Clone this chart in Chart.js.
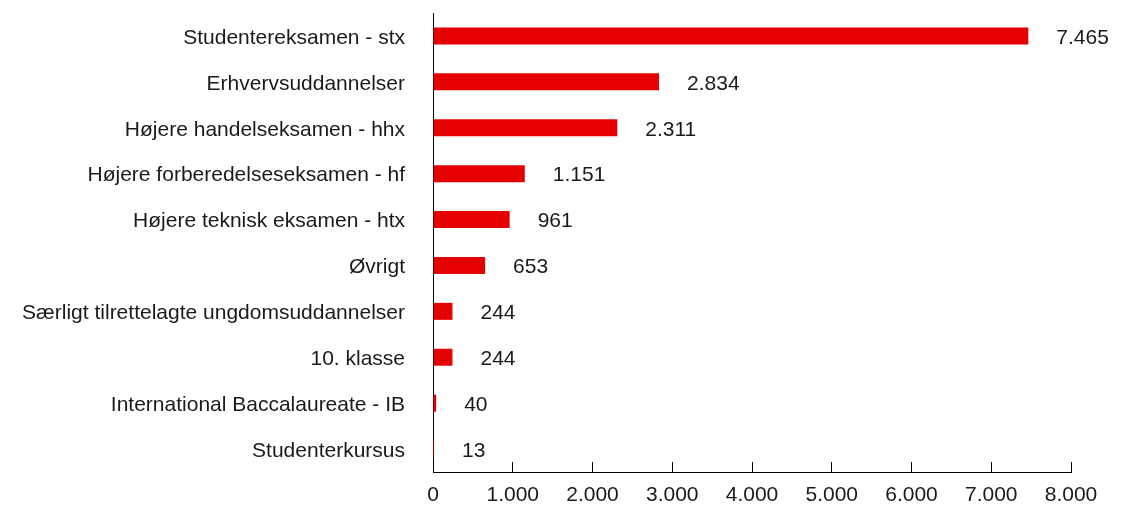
<!DOCTYPE html>
<html>
<head>
<meta charset="utf-8">
<script src="https://cdn.jsdelivr.net/npm/chart.js@4"></script>
<style>
  html, body { margin: 0; padding: 0; background: #fff; }
  #wrap { width: 1124px; height: 505px; }
</style>
</head>
<body>
<div id="wrap"><canvas id="chart" width="1124" height="505"></canvas></div>
<script>
const categories = [
  "Studentereksamen - stx",
  "Erhvervsuddannelser",
  "Højere handelseksamen - hhx",
  "Højere forberedelseseksamen - hf",
  "Højere teknisk eksamen - htx",
  "Øvrigt",
  "Særligt tilrettelagte ungdomsuddannelser",
  "10. klasse",
  "International Baccalaureate - IB",
  "Studenterkursus",
];
const values = [7465, 2834, 2311, 1151, 961, 653, 244, 244, 40, 13];
const xTicks = [0, 1000, 2000, 3000, 4000, 5000, 6000, 7000, 8000];

const FONT = "'Liberation Sans', Arial, Helvetica, sans-serif";
const FONT_SIZE = 21;

// danish thousands separator
function fmt(v) {
  return String(v).replace(/\B(?=(\d{3})+(?!\d))/g, ".");
}

const valueLabels = {
  id: "valueLabels",
  afterDatasetsDraw(chart) {
    const ctx = chart.ctx;
    const meta = chart.getDatasetMeta(0);
    ctx.save();
    ctx.font = FONT_SIZE + "px " + FONT;
    ctx.fillStyle = "#1a1a1a";
    ctx.textAlign = "left";
    ctx.textBaseline = "middle";
    meta.data.forEach((bar, i) => {
      ctx.fillText(fmt(values[i]), bar.x + 28, bar.y + 2);
    });
    ctx.restore();
  },
};

new Chart(document.getElementById("chart"), {
  type: "bar",
  data: {
    labels: categories,
    datasets: [
      {
        data: values,
        backgroundColor: "#e50000",
        borderWidth: 0,
        categoryPercentage: 1,
        barPercentage: 0.37,
      },
    ],
  },
  options: {
    indexAxis: "y",
    responsive: false,
    animation: false,
    layout: { padding: { top: 13, right: 53, left: 0, bottom: 0 } },
    plugins: { legend: { display: false }, tooltip: { enabled: false } },
    scales: {
      x: {
        min: 0,
        max: 8000,
        afterBuildTicks: (scale) => {
          scale.ticks = xTicks.map((v) => ({ value: v }));
        },
        afterFit: (scale) => {
          scale.height = 33;
          scale.paddingLeft = 0;
          scale.paddingRight = 0;
        },
        grid: {
          drawOnChartArea: false,
          drawTicks: true,
          tickLength: -10,
          color: "#000",
          lineWidth: 1,
        },
        border: { display: true, color: "#000", width: 1 },
        ticks: {
          padding: 21,
          color: "#1a1a1a",
          font: { family: FONT, size: FONT_SIZE },
          maxRotation: 0,
          callback: (v) => fmt(v),
        },
      },
      y: {
        afterFit: (scale) => {
          scale.width = 433;
          scale.paddingTop = 0;
          scale.paddingBottom = 0;
        },
        grid: { display: false, drawTicks: false },
        border: { display: true, color: "#000", width: 1 },
        ticks: {
          padding: 28,
          labelOffset: 2,
          color: "#1a1a1a",
          font: { family: FONT, size: FONT_SIZE },
        },
      },
    },
  },
  plugins: [valueLabels],
});
</script>
</body>
</html>
